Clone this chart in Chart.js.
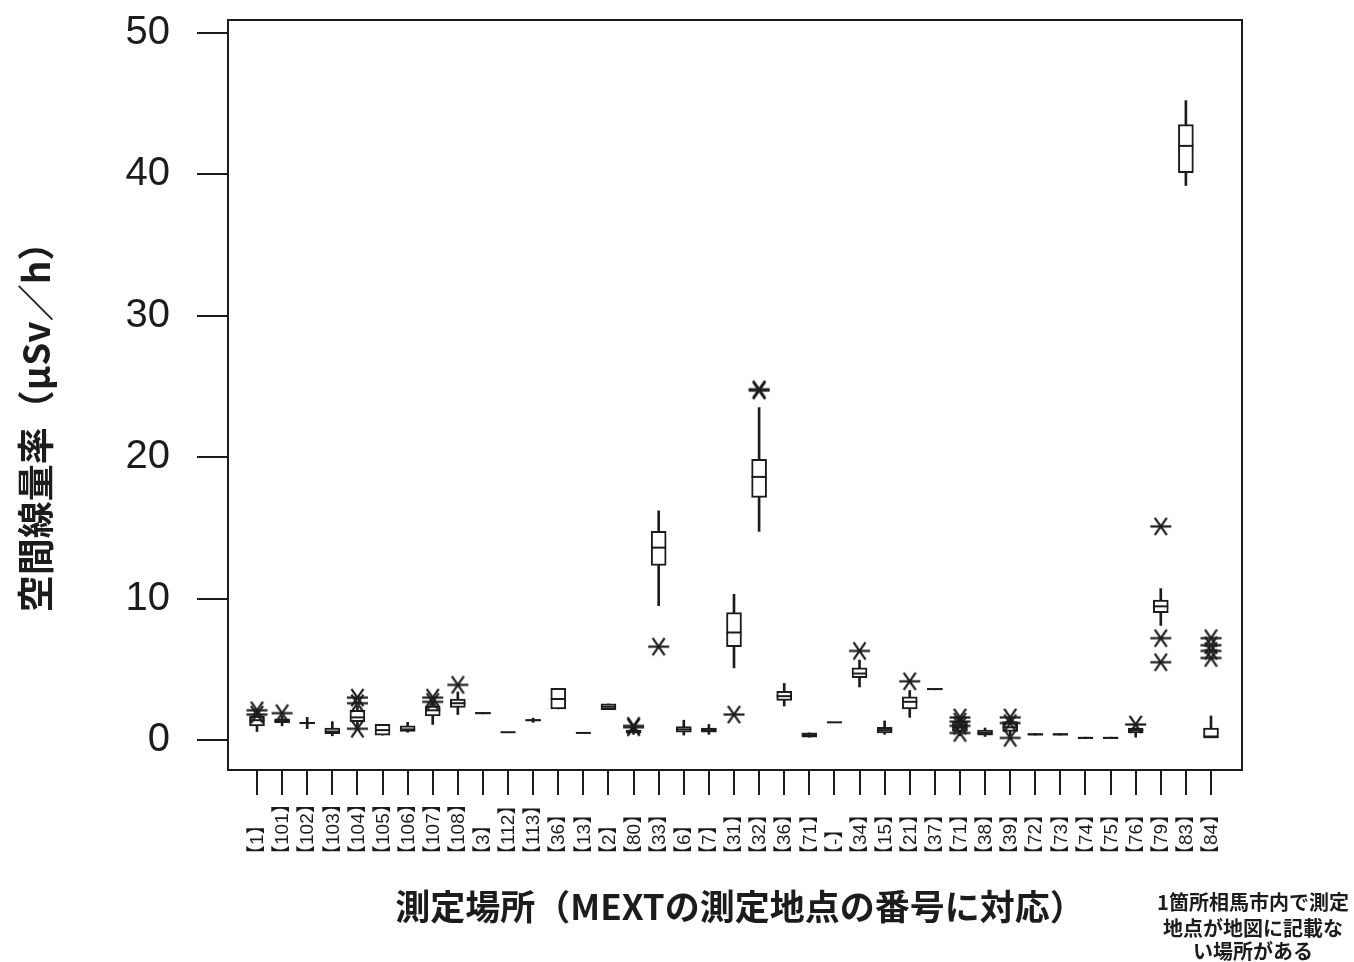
<!DOCTYPE html>
<html><head><meta charset="utf-8">
<script src="https://cdn.jsdelivr.net/npm/chart.js@4.4.1/dist/chart.umd.min.js"></script>
<style>html,body{margin:0;padding:0;background:#fff;}canvas{display:block;}</style>
</head><body>
<canvas id="c" width="1354" height="962"></canvas>
<script>
const categories = ['【1】','【101】','【102】','【103】','【104】','【105】','【106】','【107】','【108】','【3】','【112】','【113】','【36】','【13】','【2】','【80】','【33】','【6】','【7】','【31】','【32】','【36】','【71】','【-】','【34】','【15】','【21】','【37】','【71】','【38】','【39】','【72】','【73】','【74】','【75】','【76】','【79】','【83】','【84】'];
const whiskerLow  = [0.6,1.0,0.8,0.3,0.9,0.35,0.55,1.1,1.8,1.85,0.55,1.25,2.2,0.5,2.15,0.4,9.5,0.35,0.4,5.1,14.75,2.4,0.2,1.25,3.75,0.4,1.6,3.55,0.3,0.25,0.3,0.35,0.35,0.1,0.1,0.2,8.1,39.2,0.2];
const q1          = [1.0,1.2,1.15,0.45,1.3,0.35,0.6,1.7,2.3,1.85,0.55,1.35,2.2,0.5,2.15,0.5,12.35,0.55,0.55,6.6,17.15,2.8,0.2,1.25,4.4,0.5,2.2,3.55,0.6,0.35,0.6,0.35,0.35,0.1,0.1,0.5,9.0,40.1,0.2];
const median      = [1.4,1.35,1.2,0.6,1.6,0.7,0.75,2.1,2.6,1.9,0.55,1.4,2.9,0.5,2.35,0.6,13.6,0.75,0.7,7.6,18.6,3.1,0.35,1.25,4.7,0.7,2.7,3.6,0.9,0.5,0.9,0.4,0.4,0.15,0.15,0.7,9.45,42.0,0.2];
const q3          = [1.7,1.5,1.25,0.85,2.1,1.1,1.0,2.4,2.9,1.95,0.55,1.45,3.65,0.5,2.55,0.7,14.75,0.95,0.85,9.0,19.85,3.45,0.5,1.25,5.1,0.9,3.05,3.65,1.3,0.7,1.3,0.45,0.45,0.2,0.2,0.85,9.9,43.5,0.85];
const whiskerHigh = [2.0,1.7,1.6,1.3,2.4,1.1,1.25,2.6,3.4,1.95,0.55,1.55,3.65,0.5,2.55,0.8,16.2,1.4,1.1,10.3,23.5,4.0,0.5,1.25,5.65,1.35,3.5,3.65,1.5,0.85,1.5,0.45,0.45,0.2,0.2,0.85,10.7,45.2,1.7];
const outliers = [[2.1,1.8],[1.9],[],[],[3.0,2.6,0.8],[],[],[3.0,2.7],[3.9],[],[],[],[],[],[],[1.0,0.9],[6.6],[],[],[1.8],[24.7,24.8],[],[],[],[6.3],[],[4.15],[],[1.6,1.3,1.0,0.5],[],[1.6,1.2,0.15],[],[],[],[],[1.1],[15.1,7.2,5.5],[],[7.2,6.7,6.3,5.8]];
const yTicks = [0,10,20,30,40,50];
const yTitle = '空間線量率（μSv／h）';
const xTitle = '測定場所（MEXTの測定地点の番号に対応）';
const noteLines = ['1箇所相馬市内で測定','地点が地図に記載な','い場所がある'];

const INK = '#1c1c1c';

// six-spoke asterisk marker
function makeStar(size){
  const c = document.createElement('canvas');
  c.width = size; c.height = size;
  const g = c.getContext('2d');
  g.strokeStyle = INK; g.lineWidth = 2.2; g.lineCap = 'butt';
  const r = size/2 - 1, cx = size/2, cy = size/2;
  [0, 55, 125].forEach(a => {
    const t = a*Math.PI/180;
    g.beginPath();
    g.moveTo(cx - r*Math.cos(t), cy - r*Math.sin(t));
    g.lineTo(cx + r*Math.cos(t), cy + r*Math.sin(t));
    g.stroke();
  });
  return c;
}
const star = makeStar(23);

const idx = categories.map((_, i) => i);
const whiskerData = idx.map(i => ({x: i, y: [whiskerLow[i], whiskerHigh[i]]}));
const boxData = idx.map(i => ({x: i, y: [q1[i], q3[i]]}));
const medianData = idx.map(i => ({x: i, y: median[i]}));
const outlierData = [];
idx.forEach(i => outliers[i].forEach(v => outlierData.push({x: i, y: v})));

const framePlugin = {
  id: 'frame',
  afterDraw(chart){
    const {ctx, chartArea: a, scales} = chart;
    ctx.save();
    ctx.strokeStyle = INK; ctx.lineWidth = 2;
    ctx.strokeRect(a.left, a.top, a.right - a.left, a.bottom - a.top);
    // category labels, rotated, bottom aligned
    ctx.fillStyle = INK;
    ctx.font = '19px "Liberation Sans", "Noto Sans CJK JP", sans-serif';
    ctx.textAlign = 'left'; ctx.textBaseline = 'middle';
    categories.forEach((lab, i) => {
      const x = scales.x.getPixelForValue(i);
      ctx.save();
      ctx.translate(x + 1, 864);
      ctx.rotate(-Math.PI/2);
      ctx.fillText(lab, 0, 0);
      ctx.restore();
    });
    // y title
    ctx.font = 'bold 37px "Noto Sans CJK JP", sans-serif';
    ctx.textAlign = 'center';
    ctx.save();
    ctx.translate(36, 418);
    ctx.rotate(-Math.PI/2);
    ctx.fillText(yTitle, 0, 0);
    ctx.restore();
    // x title
    ctx.font = 'bold 35px "Noto Sans CJK JP", sans-serif';
    ctx.fillText(xTitle, 740, 907);
    // note
    ctx.font = 'bold 20px "Noto Sans CJK JP", sans-serif';
    [902, 928, 951].forEach((y, k) => ctx.fillText(noteLines[k], 1253, y));
    ctx.restore();
  }
};

new Chart(document.getElementById('c'), {
  data: {
    datasets: [
      {type: 'scatter', data: outlierData, pointStyle: star, pointRadius: 11, order: 0},
      {type: 'scatter', data: medianData, pointStyle: 'line', pointRadius: 7.5, borderColor: INK, borderWidth: 2, order: 1},
      {type: 'bar', data: boxData, grouped: false, barThickness: 15, backgroundColor: '#ffffff', borderColor: INK, borderWidth: 2, borderSkipped: false, order: 2},
      {type: 'bar', data: whiskerData, grouped: false, barThickness: 2, backgroundColor: INK, borderWidth: 0, order: 3}
    ]
  },
  options: {
    responsive: false,
    animation: false,
    events: [],
    layout: {padding: {top: 20, right: 112, left: 0, bottom: 0}},
    plugins: {legend: {display: false}, tooltip: {enabled: false}},
    scales: {
      x: {
        type: 'linear', min: -1.155, max: 39.235, offset: false,
        border: {display: false},
        grid: {offset: false, drawOnChartArea: false, tickLength: 25, color: INK, lineWidth: 2},
        ticks: {display: false},
        afterBuildTicks(s){ s.ticks = idx.map(i => ({value: i})); },
        afterFit(s){ s.height = 192; s.paddingLeft = 0; s.paddingRight = 0; }
      },
      y: {
        type: 'linear', min: -2.12, max: 50.9,
        border: {display: false},
        grid: {drawOnChartArea: false, tickLength: 31, color: INK, lineWidth: 2},
        ticks: {color: INK, padding: 27, font: {family: '"Liberation Sans", Arial, sans-serif', size: 40}},
        afterBuildTicks(s){ s.ticks = yTicks.map(v => ({value: v})); },
        afterFit(s){ s.width = 228; s.paddingTop = 0; s.paddingBottom = 0; }
      }
    }
  },
  plugins: [framePlugin]
});
</script>
</body></html>
